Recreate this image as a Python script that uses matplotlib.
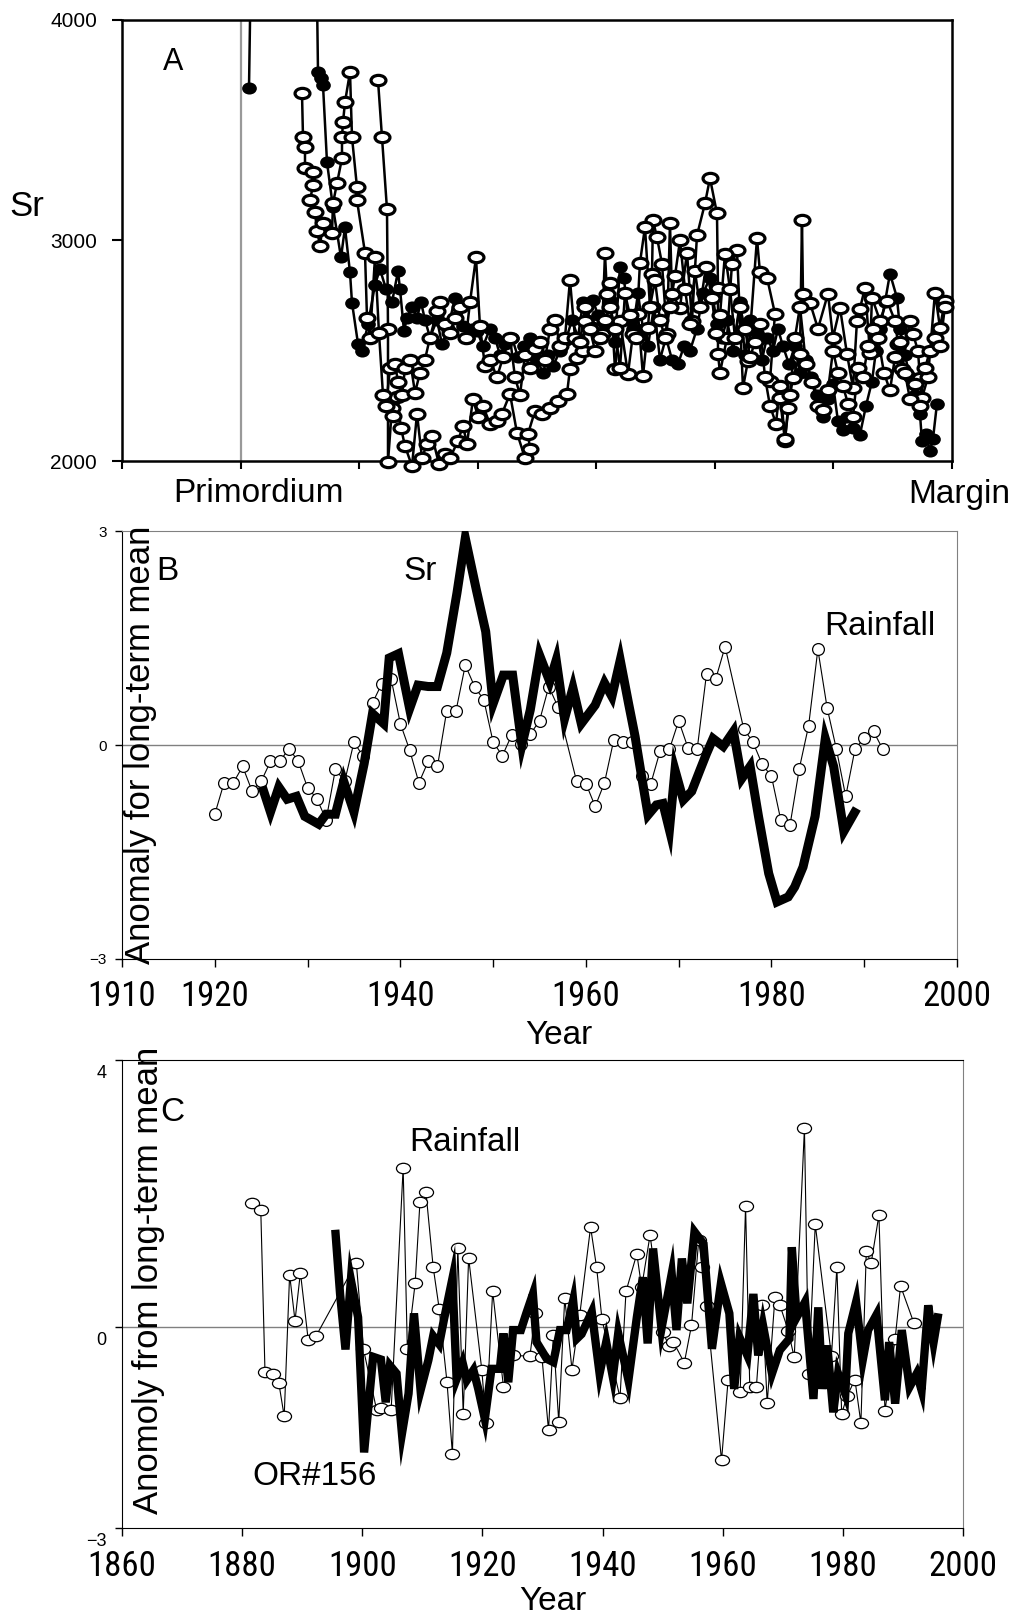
import matplotlib
matplotlib.use("Agg")
import matplotlib.pyplot as plt
from matplotlib.markers import MarkerStyle
from matplotlib.transforms import Affine2D, ScaledTranslation
from matplotlib import font_manager
import numpy as np

plt.rcParams['font.family'] = ['Liberation Sans', 'DejaVu Sans']


def narrow_font():
    # year labels are set in a condensed face when one is installed
    fonts = font_manager.fontManager.ttflist
    for want in ['Liberation Sans Narrow', 'Roboto Condensed', 'Open Sans Condensed']:
        for f in fonts:
            if f.name == want and f.style == 'normal' and f.weight in (400, 'normal', 'regular'):
                return font_manager.FontProperties(fname=f.fname), 25
    for f in fonts:
        if f.stretch in ('condensed', 'semi-condensed') and f.style == 'normal' \
                and f.weight in (400, 'normal', 'regular'):
            return font_manager.FontProperties(fname=f.fname), 23
    return font_manager.FontProperties(family='Liberation Sans'), 22


YEAR_FONT, YEAR_SIZE = narrow_font()

# ---------------- panel A: Sr along the otolith transect (distance, arbitrary units)
filled_dist = [127, 134, 190, 196, 199, 201, 205, 211, 219, 223,
               228, 230, 236, 240, 246, 253, 258, 264, 270, 276,
               278, 282, 285, 290, 295, 299, 303, 308, 315, 320,
               326, 333, 338, 341, 346, 350, 355, 361, 368, 373,
               378, 383, 390, 396, 402, 408, 415, 421, 426, 431,
               438, 444, 450, 456, 461, 465, 471, 476, 482, 488,
               493, 498, 502, 506, 511, 516, 521, 526, 532, 538,
               544, 550, 556, 562, 568, 575, 581, 588, 595, 600,
               605, 611, 618, 623, 628, 635, 640, 645, 651, 656,
               661, 667, 673, 678, 684, 689, 695, 701, 706, 711,
               716, 721, 725, 731, 738, 744, 750, 754, 758, 763,
               768, 775, 778, 783, 788, 793, 798, 800, 804, 808,
               811, 815]
filled_sr = [3690, 5800, 5800, 3764, 3736, 3705, 3355, 3150, 2923, 3059,
             2855, 2718, 2532, 2500, 2620, 2800, 2870, 2780, 2720, 2860,
             2780, 2590, 2650, 2700, 2650, 2720, 2640, 2560, 2640, 2530,
             2600, 2740, 2700, 2610, 2560, 2600, 2590, 2520, 2600, 2560,
             2480, 2530, 2560, 2470, 2520, 2560, 2460, 2400, 2480, 2430,
             2500, 2550, 2640, 2560, 2720, 2640, 2730, 2660, 2600, 2730,
             2540, 2880, 2830, 2640, 2600, 2760, 2600, 2520, 2700, 2460,
             2560, 2460, 2440, 2520, 2500, 2600, 2760, 2830, 2620, 2560,
             2640, 2500, 2720, 2480, 2640, 2580, 2460, 2560, 2500, 2600,
             2520, 2440, 2520, 2400, 2460, 2380, 2300, 2200, 2280, 2350,
             2180, 2140, 2200, 2150, 2120, 2250, 2360, 2500, 2600, 2720,
             2850, 2740, 2600, 2480, 2380, 2300, 2214, 2090, 2123, 2045,
             2100, 2260]

open1_dist = [180, 181, 183, 183, 191, 191, 188, 193, 195, 198,
              201, 210, 211, 215, 220, 220, 221, 223, 228, 230,
              235, 235, 243, 245, 248, 253, 257, 261, 264, 268,
              273, 276, 280, 283, 288, 293, 298, 303, 308, 315,
              318, 323, 328, 333, 338, 344, 348, 354, 358, 363,
              368, 375, 381, 388, 393, 398, 403, 408, 413, 418,
              423, 428, 433, 438, 443, 448, 453, 458, 463, 468,
              473, 478, 483, 488, 493, 498, 503, 508, 514, 518,
              523, 528, 533, 538, 543, 548, 553, 558, 563, 568,
              573, 578, 584, 590, 594, 598, 603, 608, 613, 618,
              623, 628, 633, 638, 643, 648, 654, 658, 663, 668,
              673, 678, 684, 690, 696, 701, 706, 711, 716, 721,
              726, 731, 736, 741, 746, 751, 756, 762, 768, 773,
              778, 783, 788, 793, 798, 803, 808, 813, 818, 823]
open1_sr = [3668, 3468, 3423, 3327, 3309, 3250, 3182, 3127, 3045, 2977,
            3077, 3032, 3168, 3259, 3373, 3468, 3536, 3627, 3764, 3468,
            3241, 3182, 2945, 2650, 2559, 2923, 2580, 2300, 2250, 2420,
            2440, 2360, 2300, 2420, 2460, 2310, 2400, 2460, 2560, 2680,
            2720, 2620, 2580, 2650, 2700, 2560, 2720, 2923, 2610, 2430,
            2460, 2380, 2470, 2560, 2380, 2300, 2480, 2420, 2510, 2540,
            2460, 2600, 2640, 2520, 2560, 2820, 2560, 2540, 2700, 2600,
            2500, 2560, 2640, 2700, 2600, 2420, 2760, 2660, 2560, 2900,
            3060, 2700, 2820, 2640, 2560, 2700, 2840, 3000, 2780, 2620,
            2860, 2700, 2880, 2740, 2580, 2660, 2940, 2780, 2560, 2700,
            2600, 2470, 2540, 2620, 2380, 2250, 2170, 2340, 2100, 2300,
            2560, 2700, 2440, 2360, 2250, 2230, 2320, 2500, 2400, 2340,
            2260, 2200, 2420, 2380, 2520, 2600, 2560, 2400, 2320, 2470,
            2540, 2400, 2280, 2350, 2250, 2420, 2500, 2560, 2520, 2700]

open2_dist = [256, 260, 265, 266, 266, 270, 271, 275, 279, 283,
              290, 295, 300, 305, 310, 317, 323, 328, 336, 341,
              345, 351, 356, 361, 368, 375, 380, 388, 395, 403,
              408, 406, 413, 420, 428, 436, 445, 448, 455, 461,
              463, 471, 480, 483, 485, 488, 493, 498, 506, 511,
              516, 521, 526, 530, 531, 535, 540, 545, 548, 550,
              558, 565, 570, 575, 583, 588, 595, 596, 596, 598,
              605, 610, 615, 621, 626, 635, 638, 645, 653, 648,
              658, 663, 666, 671, 678, 680, 681, 688, 696, 706,
              711, 718, 725, 731, 735, 738, 743, 748, 750, 758,
              765, 773, 776, 780, 788, 791, 796, 798, 800, 806,
              813, 818, 823]
open2_sr = [3727, 3468, 3141, 2600, 1995, 2241, 2205, 2290, 2150, 2068,
            1977, 2214, 2014, 2077, 2114, 1986, 2030, 2014, 2091, 2160,
            2077, 2282, 2200, 2250, 2168, 2182, 2214, 2305, 2127, 2014,
            2055, 2123, 2227, 2214, 2241, 2273, 2305, 2418, 2468, 2500,
            2636, 2605, 2577, 2941, 2759, 2805, 2418, 2636, 2395, 2577,
            2668, 2386, 2605, 2850, 3091, 3014, 2895, 2577, 3077, 2759,
            2695, 2945, 2636, 3023, 3168, 3282, 3123, 2786, 2486, 2400,
            2559, 2895, 2955, 2332, 2455, 3009, 2855, 2832, 2668, 2364,
            2286, 2091, 2241, 2377, 2486, 3091, 2759, 2718, 2600, 2759,
            2559, 2695, 2486, 2332, 2636, 2691, 2786, 2491, 2741, 2636,
            2727, 2636, 2532, 2418, 2636, 2577, 2500, 2377, 2286, 2380,
            2764, 2605, 2727]

# ---------------- panel B: Sr and rainfall anomalies, 1920-1992
rain_b_year = [1920, 1921, 1922, 1923, 1924, 1925, 1926, 1927, 1928, 1929,
               1930, 1931, 1932, 1933, 1934, 1935, 1936, 1937, 1938, 1939,
               1940, 1941, 1942, 1943, 1944, 1945, 1946, 1947, 1948, 1949,
               1950, 1951, 1952, 1953, 1954, 1955, 1956, 1957, 1959, 1960,
               1961, 1962, 1963, 1964, 1965, 1966, 1967, 1968, 1969, 1970,
               1971, 1972, 1973, 1974, 1975, 1977, 1978, 1979, 1980, 1981,
               1982, 1983, 1984, 1985, 1986, 1987, 1988, 1989, 1990, 1991,
               1992]
rain_b = [-0.97, -0.53, -0.53, -0.30, -0.64, -0.51, -0.23, -0.23, -0.05, -0.23,
          -0.60, -0.75, -1.05, -0.34, -0.51, 0.04, -0.16, 0.59, 0.86, 0.93,
          0.30, -0.07, -0.53, -0.23, -0.30, 0.48, 0.48, 1.12, 0.82, 0.63,
          0.04, -0.15, 0.14, 0.01, 0.15, 0.34, 0.82, 0.53, -0.51, -0.54,
          -0.86, -0.53, 0.07, 0.04, 0.04, -0.44, -0.54, -0.08, -0.06, 0.34,
          -0.04, -0.05, 1.00, 0.93, 1.38, 0.23, 0.04, -0.27, -0.44, -1.05,
          -1.12, -0.33, 0.27, 1.34, 0.52, -0.06, -0.72, -0.06, 0.10, 0.19,
          -0.06]

sr_b_year = [1925.1, 1926.0, 1926.9, 1927.8, 1928.8, 1929.7, 1931.2, 1932.0, 1933.0, 1933.9,
             1935.0, 1936.1, 1937.0, 1938.2, 1938.8, 1939.8, 1941.0, 1941.9, 1943.0, 1944.0,
             1945.0, 1946.1, 1947.0, 1948.2, 1949.2, 1950.0, 1951.1, 1952.1, 1953.1, 1954.0,
             1955.0, 1956.1, 1956.8, 1957.7, 1958.6, 1959.5, 1961.0, 1962.0, 1962.8, 1963.7,
             1964.6, 1965.3, 1966.0, 1966.7, 1967.6, 1968.3, 1969.0, 1969.6, 1970.5, 1971.4,
             1972.3, 1973.0, 1973.7, 1974.8, 1975.9, 1976.8, 1977.7, 1978.6, 1979.7, 1980.6,
             1981.8, 1982.5, 1983.4, 1984.7, 1985.8, 1986.7, 1987.8, 1989.2]
sr_b = [-0.58, -0.94, -0.59, -0.76, -0.72, -1.00, -1.11, -0.97, -0.97, -0.51,
        -0.94, -0.26, 0.44, 0.30, 1.22, 1.28, 0.51, 0.84, 0.82, 0.82,
        1.29, 2.13, 2.90, 2.17, 1.59, 0.58, 0.98, 0.98, 0.00, 0.49,
        1.26, 0.89, 1.19, 0.37, 0.80, 0.30, 0.56, 0.87, 0.68, 1.19,
        0.58, 0.12, -0.44, -0.98, -0.84, -0.82, -1.19, -0.35, -0.77, -0.65,
        -0.35, -0.12, 0.09, -0.02, 0.19, -0.47, -0.30, -1.00, -1.80, -2.20,
        -2.13, -1.99, -1.71, -1.00, 0.09, -0.30, -1.21, -0.89]

# ---------------- panel C: OR#156 Sr and rainfall anomalies, 1880-1996
rain_c_year = [1881.7, 1883.1, 1883.8, 1885.2, 1886.1, 1887.0, 1887.9, 1888.8, 1889.7, 1891.0,
               1892.3, 1899.0, 1900.2, 1902.4, 1903.1, 1904.8, 1906.8, 1907.5, 1908.8, 1909.6,
               1910.6, 1911.8, 1912.8, 1914.1, 1915.0, 1915.9, 1916.8, 1917.7, 1919.9, 1920.6,
               1921.7, 1923.5, 1925.1, 1927.9, 1928.8, 1929.9, 1931.0, 1931.8, 1932.7, 1933.7,
               1934.9, 1936.2, 1938.0, 1939.0, 1939.9, 1942.9, 1943.9, 1945.7, 1946.5, 1947.9,
               1950.1, 1951.0, 1951.8, 1953.6, 1954.8, 1956.0, 1956.6, 1957.3, 1959.8, 1960.9,
               1962.9, 1963.8, 1964.5, 1965.6, 1966.6, 1967.4, 1968.7, 1969.5, 1970.9, 1971.9,
               1973.6, 1974.3, 1975.4, 1978.1, 1979.0, 1979.8, 1980.7, 1982.0, 1983.0, 1983.9,
               1984.7, 1986.0, 1987.0, 1988.7, 1989.6, 1991.8]
rain_c = [1.86, 1.76, -0.66, -0.69, -0.83, -1.33, 0.79, 0.10, 0.82, -0.19,
          -0.13, 0.97, -0.33, -1.24, -1.21, -1.24, 2.39, -0.32, 0.66, 1.88,
          2.02, 0.90, 0.28, -0.82, -1.89, 1.19, -1.29, 1.04, -0.64, -1.43,
          0.54, -0.89, -0.42, -0.43, 0.21, -0.44, -1.54, -0.12, -1.41, 0.44,
          -0.63, 0.19, 1.50, 0.90, 0.12, -1.05, 0.54, 1.10, 0.60, 1.38,
          -0.07, -0.28, -0.22, -0.53, 0.03, 1.30, 0.90, 0.32, -1.99, -0.78,
          -0.97, 1.82, -0.89, -0.89, 0.34, -1.13, 0.46, 0.34, -0.05, -0.45,
          2.98, -0.69, 1.54, -0.43, 0.90, -1.29, -1.03, -0.78, -1.43, 1.14,
          0.96, 1.68, -1.25, -0.17, 0.62, 0.07]

sr_c_year = [1895.5, 1896.3, 1897.2, 1898.1, 1899.3, 1900.3, 1901.8, 1903.1, 1903.9, 1904.6,
             1905.7, 1906.6, 1907.7, 1908.6, 1909.7, 1911.0, 1911.8, 1912.8, 1913.6, 1915.0,
             1915.7, 1916.7, 1917.4, 1918.5, 1919.3, 1920.4, 1921.5, 1922.9, 1923.5, 1924.3,
             1925.1, 1926.4, 1927.3, 1928.4, 1929.0, 1930.7, 1931.8, 1932.9, 1934.0, 1935.1,
             1935.7, 1936.5, 1938.2, 1939.5, 1940.6, 1941.7, 1942.6, 1944.3, 1945.7, 1946.7,
             1947.5, 1948.4, 1949.8, 1951.5, 1952.3, 1953.2, 1954.1, 1955.3, 1956.8, 1958.2,
             1959.7, 1961.1, 1961.9, 1962.8, 1964.1, 1965.1, 1965.9, 1966.7, 1968.2, 1969.5,
             1971.1, 1971.5, 1972.3, 1973.7, 1975.1, 1975.9, 1976.6, 1977.4, 1978.4, 1979.2,
             1980.4, 1980.9, 1982.2, 1983.3, 1984.2, 1985.6, 1987.0, 1987.7, 1988.7, 1989.8,
             1991.1, 1992.3, 1993.1, 1994.2, 1995.1, 1995.9]
sr_c = [1.46, 0.50, -0.33, 0.71, 0.15, -1.87, -0.44, -0.48, -1.12, -0.57,
        -0.69, -1.59, -0.99, 0.21, -0.94, -0.49, -0.13, -0.25, 0.12, 0.73,
        -0.77, -0.53, -0.79, -0.64, -0.92, -1.37, -0.62, -0.62, -0.09, -0.82,
        -0.04, -0.04, 0.21, 0.50, -0.22, -0.47, -0.52, -0.04, -0.04, 0.40,
        -0.17, -0.10, 0.23, -0.69, -0.22, -0.74, -0.09, -0.79, 0.15, 0.75,
        -0.24, 1.18, -0.02, 0.80, -0.04, 1.03, 0.36, 1.43, 1.25, -0.32,
        0.66, 0.21, -0.92, -0.15, -0.42, 0.50, -0.42, 0.03, -0.69, -0.34,
        -0.17, 1.20, 0.15, 0.38, -1.07, 0.30, -0.92, -0.27, -1.27, -0.69,
        -0.99, -0.09, 0.38, -0.49, -0.04, 0.19, -1.09, -0.22, -1.14, -0.04,
        -0.89, -0.69, -0.94, 0.33, -0.22, 0.21]

b_year_labels = {1910: '1910', 1920: '1920', 1940: '1940', 1960: '1960', 1980: '1980', 2000: '2000'}

GRAY = '#808080'


def ellipse(sx):
    return MarkerStyle('o', transform=Affine2D().scale(sx, 1.0))


def transect(ax, dist, sr, filled):
    dist = np.array(dist)
    sr = np.array(sr)
    ax.plot(dist, sr, color='black', lw=1.8, zorder=2)
    inside = sr < 4000
    if filled:
        ax.plot(dist[inside], sr[inside], ls='none', marker=ellipse(1.25), ms=7.5,
                mfc='black', mec='black', mew=1.2, zorder=3, clip_on=False)
    else:
        ax.plot(dist[inside], sr[inside], ls='none', marker=ellipse(1.45), ms=7.4,
                mfc='white', mec='black', mew=2.3, zorder=4, clip_on=False)


def year_ticklabels(ax):
    for lab in ax.get_xticklabels():
        lab.set_fontproperties(YEAR_FONT)
        lab.set_fontsize(YEAR_SIZE)


fig = plt.figure(figsize=(10.15, 16.21), dpi=100)

# ---------------- A
axA = fig.add_axes([0.1202, 0.7156, 0.8177, 0.2721])
transect(axA, filled_dist, filled_sr, True)
transect(axA, open2_dist, open2_sr, False)
transect(axA, open1_dist, open1_sr, False)
axA.set_xlim(0, 830)
axA.set_ylim(2000, 4000)
ticksA = np.linspace(0, 830, 8)
axA.set_xticks(ticksA)
axA.set_xticklabels([])
axA.axvline(ticksA[1], color='#999999', lw=1.6, zorder=1)
axA.set_yticks([2000, 3000, 4000])
axA.tick_params(axis='y', direction='out', length=7, width=1.5, labelsize=15, pad=11)
axA.tick_params(axis='x', direction='out', length=6, width=1.5)
for s in axA.spines.values():
    s.set_linewidth(1.8)
    s.set_color('black')
axA.text(51, 3810, 'A', fontsize=22, ha='center', va='center')
fig.text(27 / 1015, 1 - 207 / 1621, 'Sr', fontsize=25, ha='center', va='center')
fig.text(258 / 1015, 1 - 494 / 1621, 'Primordium', fontsize=24, ha='center', va='center')
fig.text(959 / 1015, 1 - 494 / 1621, 'Margin', fontsize=24, ha='center', va='center')

# ---------------- B
axB = fig.add_axes([0.1202, 0.4084, 0.8227, 0.2640])
axB.axhline(0, color=GRAY, lw=1, zorder=1)
axB.plot(rain_b_year, rain_b, color='black', lw=0.8, marker='o', ms=8.5,
         mfc='white', mec='black', mew=0.9, zorder=2)
axB.plot(sr_b_year, sr_b, color='black', lw=6.5, solid_joinstyle='miter',
         solid_capstyle='butt', zorder=3)
axB.set_xlim(1910, 2000)
axB.set_ylim(-3, 3)
axB.set_xticks(list(range(1910, 2001, 10)))
axB.set_xticklabels([b_year_labels.get(y, '') for y in range(1910, 2001, 10)])
year_ticklabels(axB)
axB.set_yticks([-3, 0, 3])
axB.tick_params(axis='y', direction='out', length=5, width=1, labelsize=11, pad=6)
axB.tick_params(axis='x', direction='out', length=6, width=1, pad=9)
axB.spines['top'].set_color(GRAY)
axB.spines['right'].set_color(GRAY)
axB.text(1914.9, 2.43, 'B', fontsize=24, ha='center', va='center')
axB.text(1942.1, 2.43, 'Sr', fontsize=24, ha='center', va='center')
axB.text(1991.7, 1.66, 'Rainfall', fontsize=24, ha='center', va='center')
axB.text(18 / 835, 0.5, 'Anomaly for long-term mean', transform=axB.transAxes,
         rotation=90, fontsize=25, ha='center', va='center')
fig.text(559 / 1015, 1 - 1036 / 1621, 'Year', fontsize=24, ha='center', va='center')

# ---------------- C
axC = fig.add_axes([0.1202, 0.0574, 0.8286, 0.2887])
axC.axhline(0, color=GRAY, lw=1, zorder=1)
axC.plot(rain_c_year, rain_c, color='black', lw=0.8, marker=ellipse(1.35), ms=7.5,
         mfc='white', mec='black', mew=0.9, zorder=2)
axC.plot(sr_c_year, sr_c, color='black', lw=6, solid_joinstyle='miter',
         solid_capstyle='butt', zorder=3)
axC.set_xlim(1860, 2000)
axC.set_ylim(-3, 4)
axC.set_xticks(list(range(1860, 2001, 20)))
axC.set_xticklabels([str(y) for y in range(1860, 2001, 20)])
year_ticklabels(axC)
axC.set_yticks([-3, 0, 4])
axC.tick_params(axis='y', direction='out', length=5, width=1, labelsize=13, pad=6)
axC.tick_params(axis='x', direction='out', length=6, width=1, pad=10)
# the value labels on this axis sit a little below their ticks
shift = ScaledTranslation(0, -8 / 72, fig.dpi_scale_trans)
for lab in axC.get_yticklabels():
    lab.set_transform(lab.get_transform() + shift)
axC.spines['right'].set_color(GRAY)
axC.text(1868.3, 3.22, 'C', fontsize=24, ha='center', va='center')
axC.text(1917.1, 2.76, 'Rainfall', fontsize=24, ha='center', va='center')
axC.text(1892.1, -2.23, 'OR#156', fontsize=24, ha='center', va='center')
axC.text(26 / 841, 0.53, 'Anomoly from long-term mean', transform=axC.transAxes,
         rotation=90, fontsize=25, ha='center', va='center')
fig.text(553 / 1015, 1 - 1602 / 1621, 'Year', fontsize=24, ha='center', va='center')

fig.savefig('out.png', dpi=100)
